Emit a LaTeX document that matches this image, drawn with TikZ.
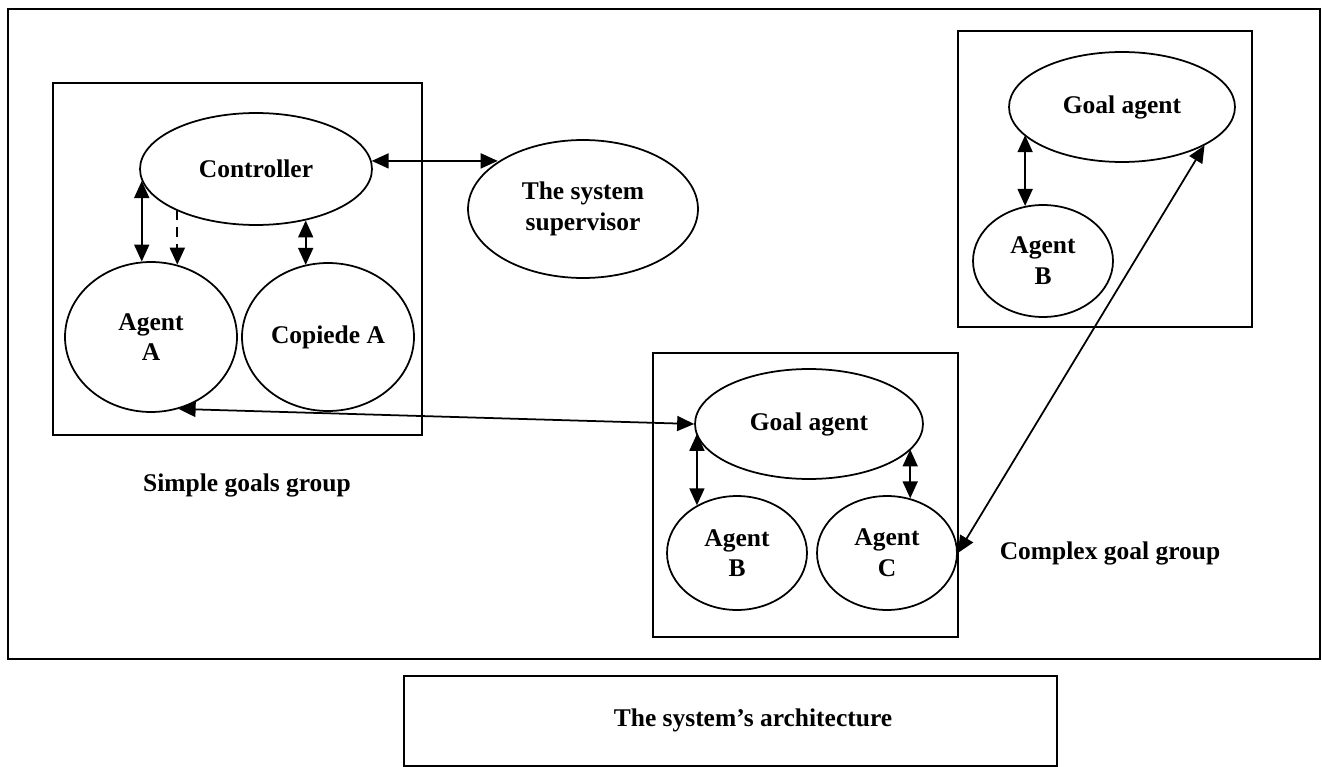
\documentclass[tikz,border=0pt]{standalone}
\usepackage{fontspec}
\setmainfont{Liberation Serif}
\usetikzlibrary{shapes.geometric,arrows.meta}
\tikzset{
    agent/.style = {ellipse, draw, line width = 1pt, fill = white, inner sep = 0pt, align = center},
    groupbox/.style = {draw, line width = 1.1pt},
    biarrow/.style = {{Triangle[length = 0.34cm, width = 0.3cm]}-{Triangle[length = 0.34cm, width = 0.3cm]}, line width = 1pt},
    dasharrow/.style = {-{Triangle[length = 0.34cm, width = 0.3cm]}, line width = 1.2pt, dash pattern = on 0.2cm off 0.14cm}
}
\begin{document}
\begin{tikzpicture}[x = 0.02cm, y = -0.02cm,
        every node/.append style = {font = \fontsize{14.5}{17.5}\selectfont\bfseries}]
    \useasboundingbox (0,0) rectangle (1322,767);
    % frames
    \draw[line width = 1.2pt] (8,9) rectangle (1320,659);
    \begin{scope}[style = groupbox]
        \draw (53,83) rectangle (422,435);
        \draw (653,353) rectangle (958,637);
        \draw (958,31) rectangle (1252,327);
        \draw (404,676) rectangle (1057,766);
    \end{scope}
    % simple goals group
    \node[agent, minimum width = 4.64cm, minimum height = 2.24cm] (ctrl) at (256,169) {Controller};
    \node[agent, minimum width = 3.44cm, minimum height = 3cm] (agentA) at (151,337) {Agent\\A};
    \node[agent, minimum width = 3.44cm, minimum height = 2.96cm] (copyA) at (328,337) {Copiede A};
    \node[agent, minimum width = 4.6cm, minimum height = 2.76cm] (sup) at (583,209) {The system\\supervisor};
    % complex goal group
    \node[agent, minimum width = 4.56cm, minimum height = 2.2cm] (goalM) at (809,424) {Goal agent};
    \node[agent, minimum width = 2.8cm, minimum height = 2.28cm] (agentBm) at (737,553) {Agent\\B};
    \node[agent, minimum width = 2.8cm, minimum height = 2.28cm] (agentC) at (887,553) {Agent\\C};
    \node[agent, minimum width = 4.52cm, minimum height = 2.2cm] (goalR) at (1122,107) {Goal agent};
    \node[agent, minimum width = 2.8cm, minimum height = 2.24cm] (agentBr) at (1043,261) {Agent\\B};
    % captions
    \node (simple) at (247,485) {Simple goals group};
    \node (complex) at (1110,553) {Complex goal group};
    \node (arch) at (753,720) {The system’s architecture};
    % links
    \draw[biarrow] (agentA.97 |- ctrl.186) -- (agentA.97);
    \draw[dasharrow] (agentA.70 |- ctrl.207) -- (agentA.70);
    \draw[biarrow] (ctrl.-46) -- (ctrl.-46 |- copyA.108);
    \draw[biarrow] (ctrl.4) -- (ctrl.4 -| sup.151);
    \draw[biarrow] (agentA.-69) -- (goalM.west);
    \draw[biarrow] (agentBm.130 |- goalM.185) -- (agentBm.130);
    \draw[biarrow] (agentC.67 |- goalM.-14) -- (agentC.67);
    \draw[biarrow] (agentBr.108 |- goalR.196) -- (agentBr.108);
    \draw[biarrow] (agentC.east) -- (goalR.-25);
\end{tikzpicture}
\end{document}
